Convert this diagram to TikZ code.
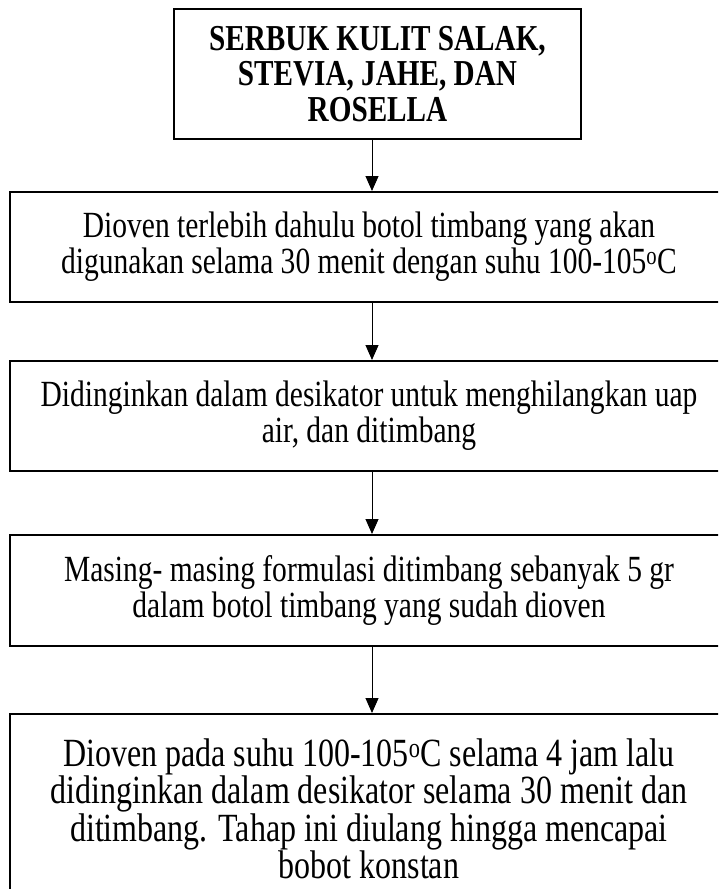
\documentclass[tikz,border=0pt]{standalone}
\usepackage{fontspec}
\setmainfont{Liberation Serif}[FakeStretch=0.8]
\usetikzlibrary{arrows.meta}
\begin{document}
\begin{tikzpicture}[x=1pt,y=1pt,
  stepbox/.style={draw=black, line width=2pt, rectangle, inner sep=0pt, align=center,
    font=\fontsize{36.9}{36}\selectfont},
  flowarrow/.style={line width=1pt, -{Triangle[width=13pt,length=15pt]}}]
\useasboundingbox (0,0) rectangle (718,-889);
\fill[white] (0,0) rectangle (718,-889);
\begin{scope}
\clip (0,0) rectangle (718,-889);
\node[stepbox, minimum width=407pt, minimum height=130pt, font=\fontsize{36.5}{35.5}\selectfont\bfseries]
  (b1) at (377.5,-74) {SERBUK KULIT SALAK,\\STEVIA, JAHE, DAN\\ROSELLA};
\node[stepbox, minimum width=718pt, minimum height=110pt]
  (b2) at (369,-247) {Dioven terlebih dahulu botol timbang yang akan\\digunakan selama 30 menit dengan suhu 100-105\textsuperscript{o}C};
\node[stepbox, minimum width=718pt, minimum height=110pt]
  (b3) at (369,-416) {Didinginkan dalam desikator untuk menghilangkan uap\\air, dan ditimbang};
\node[stepbox, minimum width=718pt, minimum height=111pt]
  (b4) at (369,-590.5) {Masing- masing formulasi ditimbang sebanyak 5 gr\\dalam botol timbang yang sudah dioven};
\node[stepbox, minimum width=718pt, minimum height=190pt, font=\fontsize{40}{35}\selectfont]
  (b5) at (369,-809) {Dioven pada suhu 100-105\textsuperscript{o}C selama 4 jam lalu\\didinginkan dalam desikator selama 30 menit dan\\ditimbang. Tahap ini diulang hingga mencapai\\bobot konstan};
\coordinate (ax) at (372,0);
\draw[flowarrow] (b1.south -| ax) -- (b2.north -| ax);
\draw[flowarrow] (b2.south -| ax) -- (b3.north -| ax);
\draw[flowarrow] (b3.south -| ax) -- (b4.north -| ax);
\draw[flowarrow] (b4.south -| ax) -- (b5.north -| ax);
\end{scope}
\end{tikzpicture}
\end{document}
